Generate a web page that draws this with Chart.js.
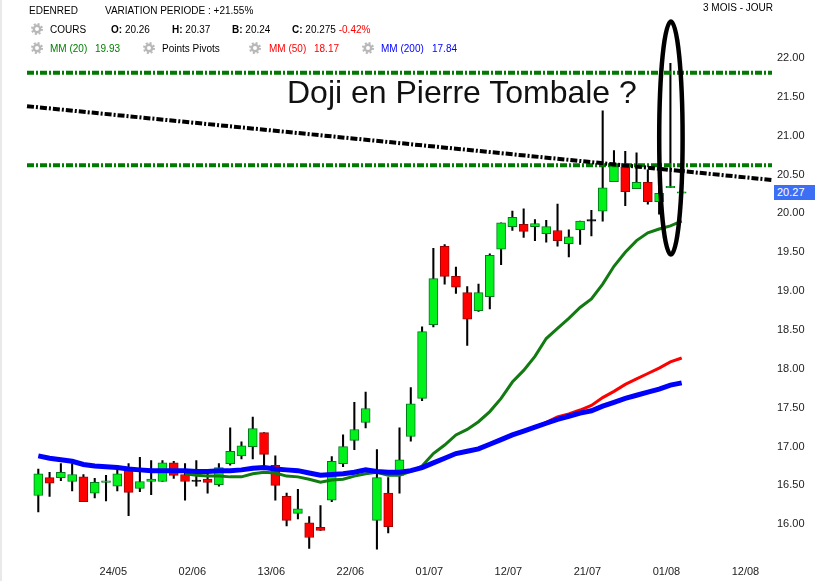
<!DOCTYPE html>
<html>
<head>
<meta charset="utf-8">
<title>EDENRED</title>
<script src="https://cdn.jsdelivr.net/npm/chart.js@4"></script>
<style>
html, body { margin: 0; padding: 0; background: #fff; }
body { position: relative; width: 815px; height: 581px; overflow: hidden; font-family: "Liberation Sans", Arial, sans-serif; }
canvas { position: absolute; left: 0; top: 0; }
#strip { position: absolute; left: 0; top: 0; width: 2px; height: 581px; background: #e9e9e9; z-index: 2; }
.t { position: absolute; font-size: 10px; line-height: 12px; white-space: nowrap; color: #000; z-index: 2; }
.gear { position: absolute; width: 12px; height: 12px; z-index: 2; }
#doji { position: absolute; left: 287px; top: 74px; font-size: 32px; line-height: 37px; color: #111; white-space: nowrap; z-index: 2; }
#price { position: absolute; left: 774px; top: 185px; width: 38px; height: 15px; padding-left: 3px; background: #3d6ff5; color: #fff; font-size: 11px; line-height: 15px; z-index: 2; }
</style>
</head>
<body>
<div id="strip"></div>
<svg width="0" height="0" style="position:absolute"><defs><g id="g">
  <circle cx="6" cy="6" r="3.2" fill="none" stroke="#b8b8b8" stroke-width="2.4"/>
  <circle cx="6" cy="6" r="5" fill="none" stroke="#b8b8b8" stroke-width="2" stroke-dasharray="2 1.93"/>
</g></defs></svg>
<div class="t" style="left:29px;top:5px">EDENRED</div>
<div class="t" style="left:105px;top:5px">VARIATION PERIODE : +21.55%</div>
<div class="t" style="left:703px;top:2px">3 MOIS - JOUR</div>

<svg class="gear" style="left:31px;top:23px"><use href="#g"/></svg>
<div class="t" style="left:50px;top:24px">COURS</div>
<div class="t" style="left:111px;top:24px"><b>O:</b> 20.26</div>
<div class="t" style="left:172px;top:24px"><b>H:</b> 20.37</div>
<div class="t" style="left:232px;top:24px"><b>B:</b> 20.24</div>
<div class="t" style="left:292px;top:24px"><b>C:</b> 20.275 <span style="color:#f00">-0.42%</span></div>

<svg class="gear" style="left:31px;top:42px"><use href="#g"/></svg>
<div class="t" style="left:50px;top:43px;color:#008000">MM (20)</div>
<div class="t" style="left:95px;top:43px;color:#008000">19.93</div>
<svg class="gear" style="left:143px;top:42px"><use href="#g"/></svg>
<div class="t" style="left:162px;top:43px">Points Pivots</div>
<svg class="gear" style="left:249px;top:42px"><use href="#g"/></svg>
<div class="t" style="left:269px;top:43px;color:#f00">MM (50)</div>
<div class="t" style="left:314px;top:43px;color:#f00">18.17</div>
<svg class="gear" style="left:362px;top:42px"><use href="#g"/></svg>
<div class="t" style="left:381px;top:43px;color:#00f">MM (200)</div>
<div class="t" style="left:432px;top:43px;color:#00f">17.84</div>

<div id="doji">Doji en Pierre Tombale ?</div>
<div id="price">20.27</div>
<canvas id="chart" width="815" height="581"></canvas>

<script>
// One slot before the first session and the empty sessions after the last one are part of the axis
var categories = ["12/05","13/05","16/05","17/05","18/05","19/05","20/05","23/05","24/05","25/05","26/05","27/05","30/05","31/05","01/06","02/06",
    "03/06","06/06","07/06","08/06","09/06","10/06","13/06","14/06","15/06","16/06","17/06","20/06","21/06","22/06",
    "23/06","24/06","27/06","28/06","29/06","30/06","01/07","04/07","05/07","06/07","07/07","08/07","11/07","12/07",
    "13/07","14/07","15/07","18/07","19/07","20/07","21/07","22/07","25/07","26/07","27/07","28/07","29/07","01/08","02/08",
    "03/08","04/08","05/08","08/08","09/08","12/08","15/08","16/08"];
var tickLabels = ["24/05","02/06","13/06","22/06","01/07","12/07","21/07","01/08","12/08"];
var yTicks = [16, 16.5, 17, 17.5, 18, 18.5, 19, 19.5, 20, 20.5, 21, 21.5, 22];

var opens = [16.37,16.60,16.60,16.55,16.61,16.40,16.54,16.49,16.70,16.46,16.55,16.55,16.79,16.64,16.55,16.58,16.51,
    16.78,16.88,17.00,17.18,16.76,16.36,16.14,16.02,15.96,16.31,16.78,17.08,17.31,16.05,16.40,16.63,17.13,17.62,
    18.57,19.575,19.19,18.98,18.75,18.93,19.54,19.83,19.86,19.83,19.74,19.78,19.61,19.79,19.90,
    20.03,20.41,20.60,20.32,20.40,20.15,20.33,20.26];
var closes = [16.65,16.53,16.67,16.64,16.29,16.54,16.56,16.65,16.41,16.55,16.58,16.79,16.63,16.55,16.55,16.54,16.73,
    16.94,17.01,17.23,16.90,16.50,16.05,16.20,15.83,15.92,16.81,17.00,17.22,17.49,16.60,15.97,16.83,17.55,18.48,
    19.16,19.19,19.05,18.64,18.98,19.46,19.88,19.95,19.77,19.87,19.83,19.65,19.70,19.90,19.90,
    20.33,20.61,20.28,20.40,20.15,20.26,20.34,20.275];
var highs = [16.71,16.67,16.78,16.78,16.64,16.59,16.63,16.70,16.78,16.86,16.82,16.82,16.81,16.78,16.82,16.65,16.78,
    17.24,17.06,17.38,17.18,16.88,16.40,16.45,16.10,16.24,16.87,17.15,17.57,17.70,16.96,16.60,17.24,17.76,18.54,
    19.55,19.60,19.31,19.06,19.09,19.48,19.88,20.03,20.06,19.92,19.91,20.12,19.79,19.90,20.04,
    21.32,20.81,20.80,20.78,20.56,20.50,21.93,20.37];
var lows = [16.16,16.36,16.56,16.43,16.29,16.34,16.30,16.43,16.11,16.42,16.38,16.55,16.59,16.31,16.49,16.40,16.49,
    16.76,16.84,16.84,16.75,16.31,15.98,16.07,15.69,15.92,16.29,16.74,16.96,17.24,15.68,15.89,16.40,17.07,17.59,
    18.54,19.09,18.97,18.30,18.74,18.77,19.34,19.78,19.69,19.65,19.63,19.58,19.44,19.60,19.71,
    19.90,20.41,20.10,20.32,20.12,19.99,20.33,20.24];

var mm20 = [null,null,null,null,null,null,null,null,null,null,null,null,null,16.65,16.63,16.62,16.62,
    16.61,16.61,16.65,16.67,16.66,16.62,16.61,16.58,16.54,16.57,16.58,16.62,16.65,16.67,16.63,16.63,16.68,16.75,
    16.91,17.02,17.15,17.22,17.32,17.45,17.62,17.83,17.98,18.16,18.39,18.52,18.65,18.79,18.90,
    19.09,19.32,19.50,19.65,19.75,19.80,19.84,19.90];
var mm50 = [null,null,null,null,null,null,null,null,null,null,null,null,null,null,null,null,null,
    null,null,null,null,null,null,null,null,null,null,null,null,null,null,null,null,null,null,
    null,null,null,null,null,17.03,17.09,17.15,17.20,17.25,17.31,17.38,17.42,17.47,17.53,
    17.63,17.71,17.80,17.87,17.94,18.01,18.09,18.14];
var mm200 = [16.88,16.85,16.83,16.81,16.77,16.75,16.74,16.73,16.71,16.70,16.69,16.69,16.69,16.69,16.68,16.68,16.69,
    16.69,16.70,16.72,16.73,16.71,16.70,16.69,16.66,16.63,16.64,16.65,16.67,16.70,16.68,16.67,16.67,16.69,16.73,
    16.79,16.85,16.91,16.94,16.97,17.03,17.09,17.15,17.20,17.25,17.30,17.35,17.39,17.43,17.46,
    17.52,17.57,17.62,17.66,17.70,17.74,17.79,17.82];

var pivotHigh = 21.81;
var pivotLow = 20.62;
var trendStart = 21.38;
var trendEnd = 20.43;
// the hand drawn ring around the doji, in axis values
var ringSlot = 57, ringTop = 22.47, ringBottom = 19.47;

var lastSlot = categories[categories.length - 1];

function withLead(list) {
    return [null].concat(list);
}

// a flat candle keeps its outline colour, black if it closed unchanged
function outlineColor(ctx) {
    var i = ctx.dataIndex - 1;
    if (closes[i] === opens[i]) return "#000";
    return closes[i] > opens[i] ? "#007a1a" : "#a00000";
}
function fillColor(ctx) {
    var i = ctx.dataIndex - 1;
    if (closes[i] === opens[i]) return "#000";
    return closes[i] > opens[i] ? "#00f21a" : "#ff0000";
}

function flatLine(value, color, order) {
    return {
        type: "line",
        data: [{x: categories[0], y: value}, {x: lastSlot, y: value}],
        borderColor: color,
        borderWidth: 4,
        borderDash: [7, 2, 2, 2],
        pointRadius: 0,
        order: order
    };
}

function avgLine(values, color, width, order) {
    return {
        type: "line",
        data: withLead(values),
        borderColor: color,
        borderWidth: width,
        pointRadius: 0,
        tension: 0,
        order: order
    };
}

var ringPlugin = {
    id: "ring",
    afterDatasetsDraw: function (chart) {
        var c = chart.ctx;
        var x = chart.scales.x.getPixelForValue(ringSlot);
        var top = chart.scales.y.getPixelForValue(ringTop);
        var bottom = chart.scales.y.getPixelForValue(ringBottom);
        c.save();
        c.beginPath();
        c.ellipse(x + 0.5, (top + bottom) / 2, 11.7, (bottom - top) / 2, 0, 0, Math.PI * 2);
        c.lineWidth = 4.5;
        c.strokeStyle = "#000";
        c.stroke();
        c.restore();
    }
};

new Chart(document.getElementById("chart"), {
    type: "bar",
    plugins: [ringPlugin],
    data: {
        labels: categories,
        datasets: [
            flatLine(pivotHigh, "#007a00", 3),
            flatLine(pivotLow, "#007a00", 3),
            {
                type: "line",
                data: [{x: categories[0], y: trendStart}, {x: lastSlot, y: trendEnd}],
                borderColor: "#000",
                borderWidth: 4,
                borderDash: [7, 2, 2, 2],
                pointRadius: 0,
                order: 1
            },
            avgLine(mm200, "#0000ff", 5, 4),
            avgLine(mm20, "#117a11", 3, 5),
            avgLine(mm50, "#ff0000", 3, 6),
            {
                data: withLead(opens.map(function (o, i) { return [o, closes[i]]; })),
                backgroundColor: fillColor,
                borderColor: outlineColor,
                borderWidth: 1,
                borderSkipped: false,
                barThickness: 9,
                minBarLength: 1.5,
                grouped: false,
                order: 7
            },
            {
                data: withLead(lows.map(function (l, i) { return [l, highs[i]]; })),
                backgroundColor: "#000",
                barThickness: 1.4,
                grouped: false,
                order: 8
            }
        ]
    },
    options: {
        responsive: false,
        animation: false,
        layout: {padding: {left: 27, top: 0, right: 0, bottom: 0}},
        plugins: {legend: {display: false}, tooltip: {enabled: false}},
        scales: {
            x: {
                type: "category",
                offset: false,
                grid: {display: false, drawTicks: false},
                border: {display: false},
                afterFit: function (scale) { scale.height = 31; },
                ticks: {
                    autoSkip: false,
                    maxRotation: 0,
                    labelOffset: -4,
                    padding: 15,
                    color: "#222",
                    font: {family: "Liberation Sans", size: 11},
                    callback: function (value) {
                        var label = this.getLabelForValue(value);
                        return tickLabels.indexOf(label) >= 0 ? label : "";
                    }
                }
            },
            y: {
                position: "right",
                min: 15.669,
                max: 22.597,
                grid: {display: false, drawTicks: false},
                border: {display: false},
                afterFit: function (scale) { scale.width = 43; },
                afterBuildTicks: function (scale) {
                    scale.ticks = yTicks.map(function (v) { return {value: v}; });
                },
                ticks: {
                    padding: 5,
                    color: "#222",
                    font: {family: "Liberation Sans", size: 11},
                    callback: function (value) { return value.toFixed(2); }
                }
            }
        }
    }
});
</script>
</body>
</html>
